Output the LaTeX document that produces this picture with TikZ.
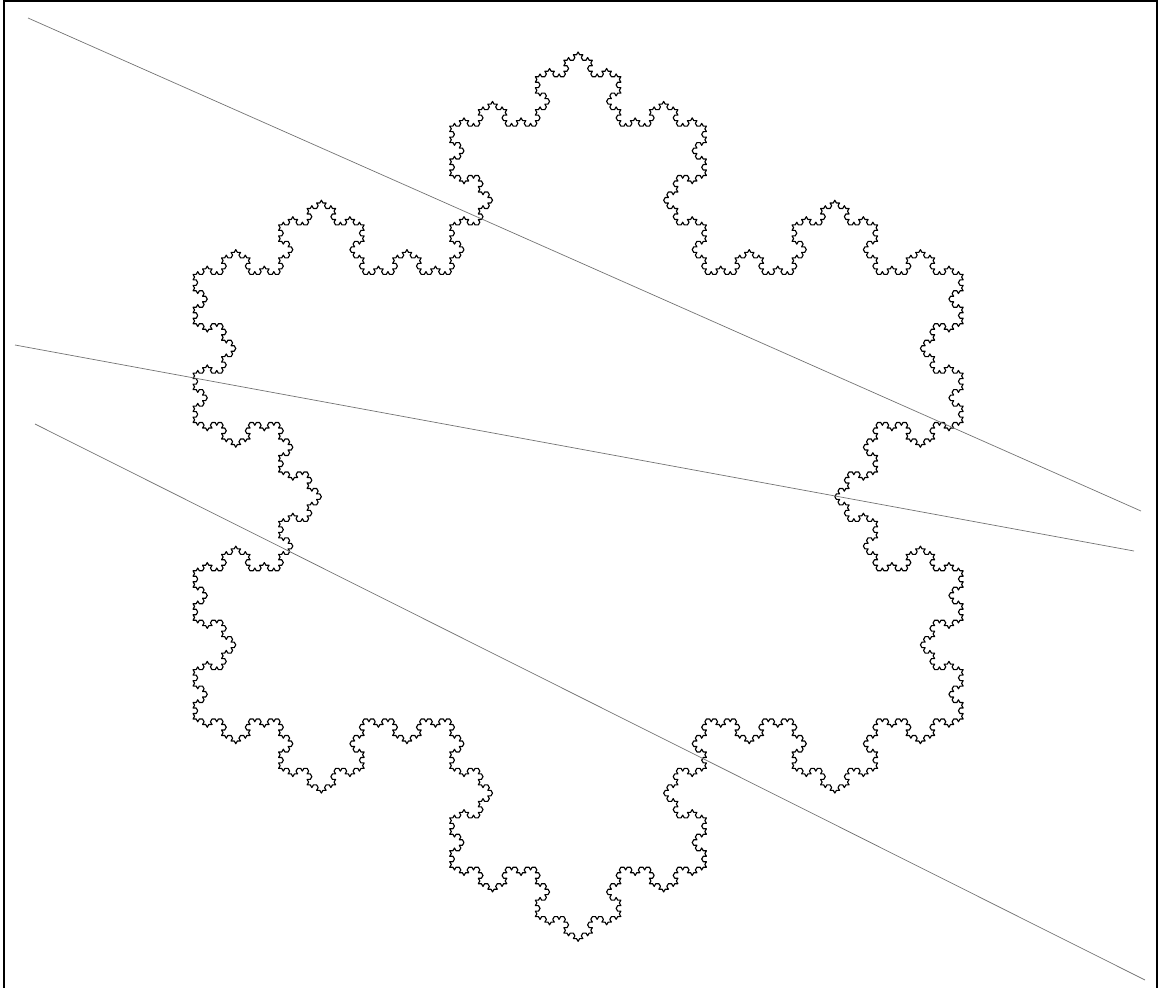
\documentclass[tikz,border=0pt]{standalone}
\usepackage{tikz}
\usetikzlibrary{lindenmayersystems}
\pgfdeclarelindenmayersystem{Koch flake}{\rule{F -> F-F++F-F}}
\begin{document}
\begin{tikzpicture}[x=0.025cm,y=-0.025cm,
  flake/.style={draw=black,line width=0.8pt,line join=round,
    l-system={Koch flake,axiom=F++F++F,order=5,step=0.79218mm,angle=60}},
  cut/.style={draw=black!55,line width=0.5pt},
  frame/.style={draw=black,line width=1.2pt}]
  \useasboundingbox (0,0) rectangle (1160,988);
  \draw[frame] (4,1) rectangle (1157,995);
  % snowflake, started at the lower left corner of its base triangle
  \begin{scope}[shift={(193,719)}]
    \draw[flake] (0,0) lindenmayer system -- cycle;
  \end{scope}
  % the three secants
  \coordinate (a1) at (28,18);   \coordinate (a2) at (1141,511);
  \coordinate (b1) at (15,345);  \coordinate (b2) at (1134,551);
  \coordinate (c1) at (35,424);  \coordinate (c2) at (1145,980);
  \draw[cut] (a1) -- (a2);
  \draw[cut] (b1) -- (b2);
  \draw[cut] (c1) -- (c2);
\end{tikzpicture}
\end{document}
